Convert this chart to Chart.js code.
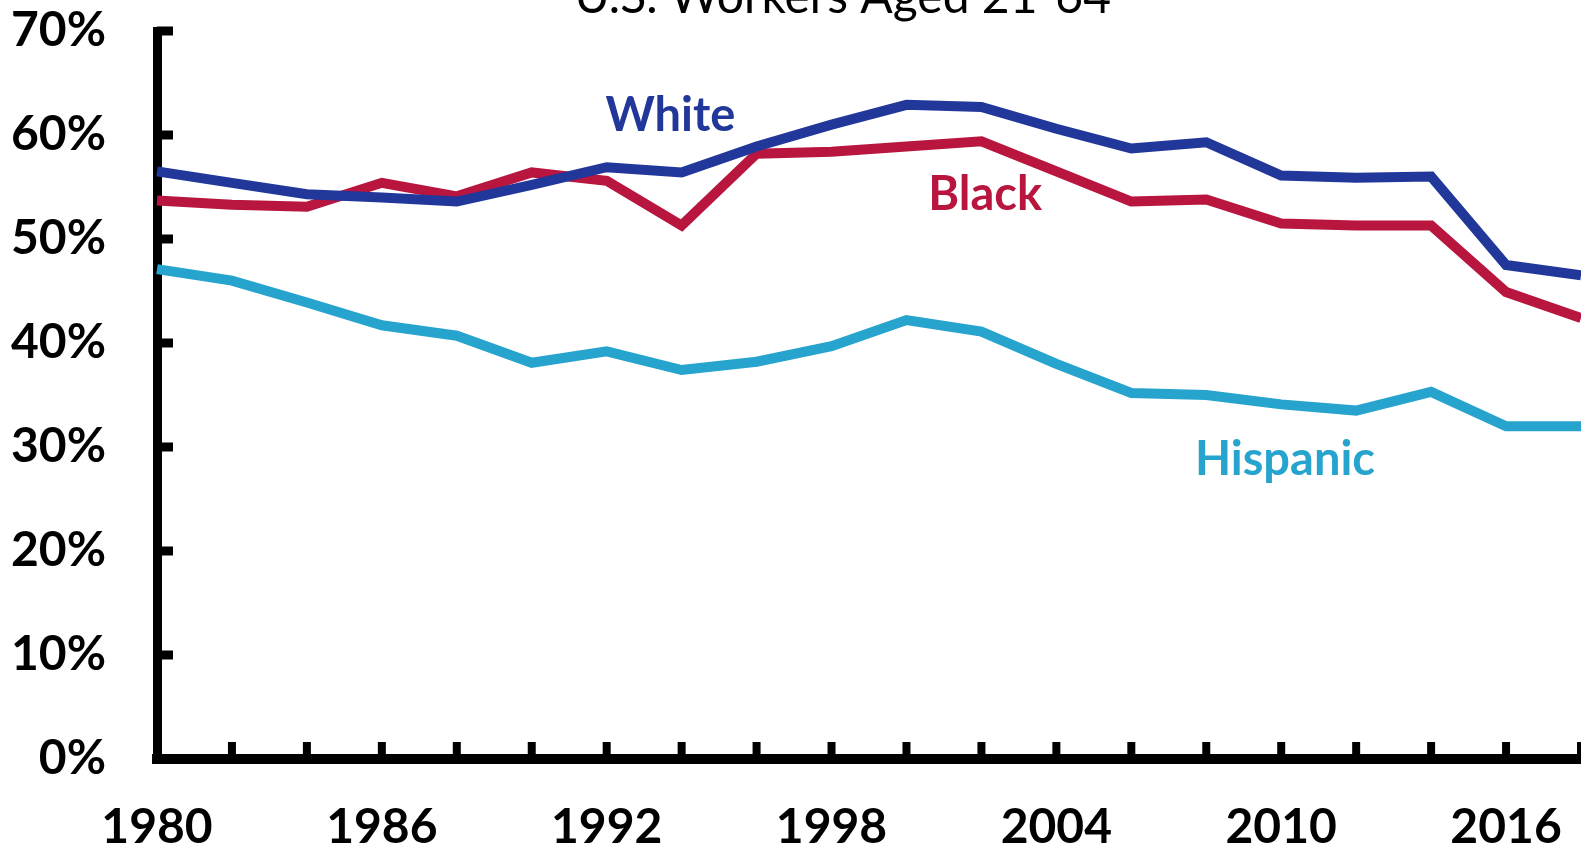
<!DOCTYPE html>
<html><head><meta charset="utf-8">
<script src="https://cdn.jsdelivr.net/npm/chart.js@4.4.1/dist/chart.umd.min.js"></script>
<style>
html,body{margin:0;padding:0;overflow:hidden;background:#fff;width:1581px;height:851px}
canvas{display:block}
</style></head><body>
<canvas id="c" width="1581" height="851"></canvas>
<script>
const years = [1980,1982,1984,1986,1988,1990,1992,1994,1996,1998,2000,2002,2004,2006,2008,2010,2012,2014,2016,2018];
const white    = [56.5,55.4,54.3,54.0,53.6,55.2,56.9,56.4,58.9,61.0,62.9,62.7,60.6,58.7,59.3,56.1,55.9,56.0,47.5,46.5];
const black    = [53.7,53.3,53.1,55.4,54.1,56.4,55.6,51.3,58.2,58.4,58.9,59.4,56.5,53.6,53.8,51.5,51.3,51.3,44.9,42.4];
const hispanic = [47.1,46.0,43.9,41.7,40.7,38.1,39.2,37.4,38.2,39.7,42.2,41.1,38.0,35.2,35.0,34.1,33.5,35.3,32.0,32.0];
const seriesNames = ['White','Black','Hispanic'];
const seriesColors = ['#22379A','#B8163F','#27A4CE'];
const labelYears = [1993.7, 2002.1, 2010.1];
const labelValues = [61.8, 54.2, 28.8];
const xTickLabels = ['1980','1986','1992','1998','2004','2010','2016'];
const titleText = 'U.S. Workers Aged 21-64';
const titleYear = 1998.3;

const FONT = 'Lato, "Noto Sans", sans-serif';
const toPts = arr => arr.map((v,i)=>({x:years[i], y:v}));
const seriesData = [white, black, hispanic];

const inwardTicks = {
  id:'inwardTicks',
  afterDatasetsDraw(chart){
    const {ctx, chartArea, scales:{x, y}} = chart;
    ctx.save();
    ctx.strokeStyle = '#000';
    ctx.lineCap = 'butt';
    ctx.lineWidth = 9;
    y.ticks.forEach(t=>{
      const py = y.getPixelForValue(t.value);
      ctx.beginPath(); ctx.moveTo(chartArea.left, py); ctx.lineTo(chartArea.left+16, py); ctx.stroke();
    });
    ctx.lineWidth = 8;
    x.ticks.forEach(t=>{
      const px = x.getPixelForValue(t.value);
      ctx.beginPath(); ctx.moveTo(px, chartArea.bottom); ctx.lineTo(px, chartArea.bottom-17); ctx.stroke();
    });
    ctx.restore();
  },
  afterDraw(chart){
    const {ctx, scales:{x, y}} = chart;
    ctx.save();
    ctx.textAlign = 'center';
    ctx.textBaseline = 'middle';
    ctx.font = 'bold 47px ' + FONT;
    seriesNames.forEach((n,i)=>{
      ctx.fillStyle = seriesColors[i];
      ctx.fillText(n, x.getPixelForValue(labelYears[i]), y.getPixelForValue(labelValues[i]));
    });
    ctx.fillStyle = '#000';
    ctx.font = 'normal 48px ' + FONT;
    ctx.textBaseline = 'alphabetic';
    ctx.fillText(titleText, x.getPixelForValue(titleYear), 13);
    ctx.restore();
  }
};

new Chart(document.getElementById('c'), {
  type:'line',
  data:{
    datasets: seriesNames.map((n,i)=>({
      label:n, data: toPts(seriesData[i]),
      borderColor: seriesColors[i], backgroundColor: seriesColors[i],
      borderWidth: 10, pointRadius: 0, tension: 0, borderJoinStyle:'miter', fill:false, clip:false
    }))
  },
  options:{
    responsive:false, devicePixelRatio:1, animation:false,
    layout:{padding:{top:31,left:0,right:0,bottom:0}},
    plugins:{legend:{display:false}, title:{display:false}, tooltip:{enabled:false}},
    scales:{
      x:{
        type:'linear', min:1980, max:2018,
        border:{display:true, color:'#000', width:10},
        grid:{display:true, drawOnChartArea:false, drawTicks:false, color:'rgba(0,0,0,0)'},
        ticks:{stepSize:2, autoSkip:false, maxRotation:0, padding:40, color:'#000',
          font:{family:FONT, size:48, weight:'bold'},
          callback:v=> xTickLabels.includes(String(v)) ? String(v) : ''},
        afterFit:s=>{ s.height = 92; s.paddingLeft = 0; s.paddingRight = 0; s.paddingTop = 0; s.paddingBottom = 0; }
      },
      y:{
        min:0, max:70,
        border:{display:true, color:'#000', width:9},
        grid:{display:true, drawOnChartArea:false, drawTicks:false, color:'rgba(0,0,0,0)'},
        ticks:{stepSize:10, padding:51, color:'#000',
          font:{family:FONT, size:48, weight:'bold'},
          callback:v=> v + '%'},
        afterFit:s=>{ s.width = 157; s.paddingTop = 0; s.paddingBottom = 0; s.paddingLeft = 0; s.paddingRight = 0; }
      }
    }
  },
  plugins:[inwardTicks]
});
</script>
</body></html>
